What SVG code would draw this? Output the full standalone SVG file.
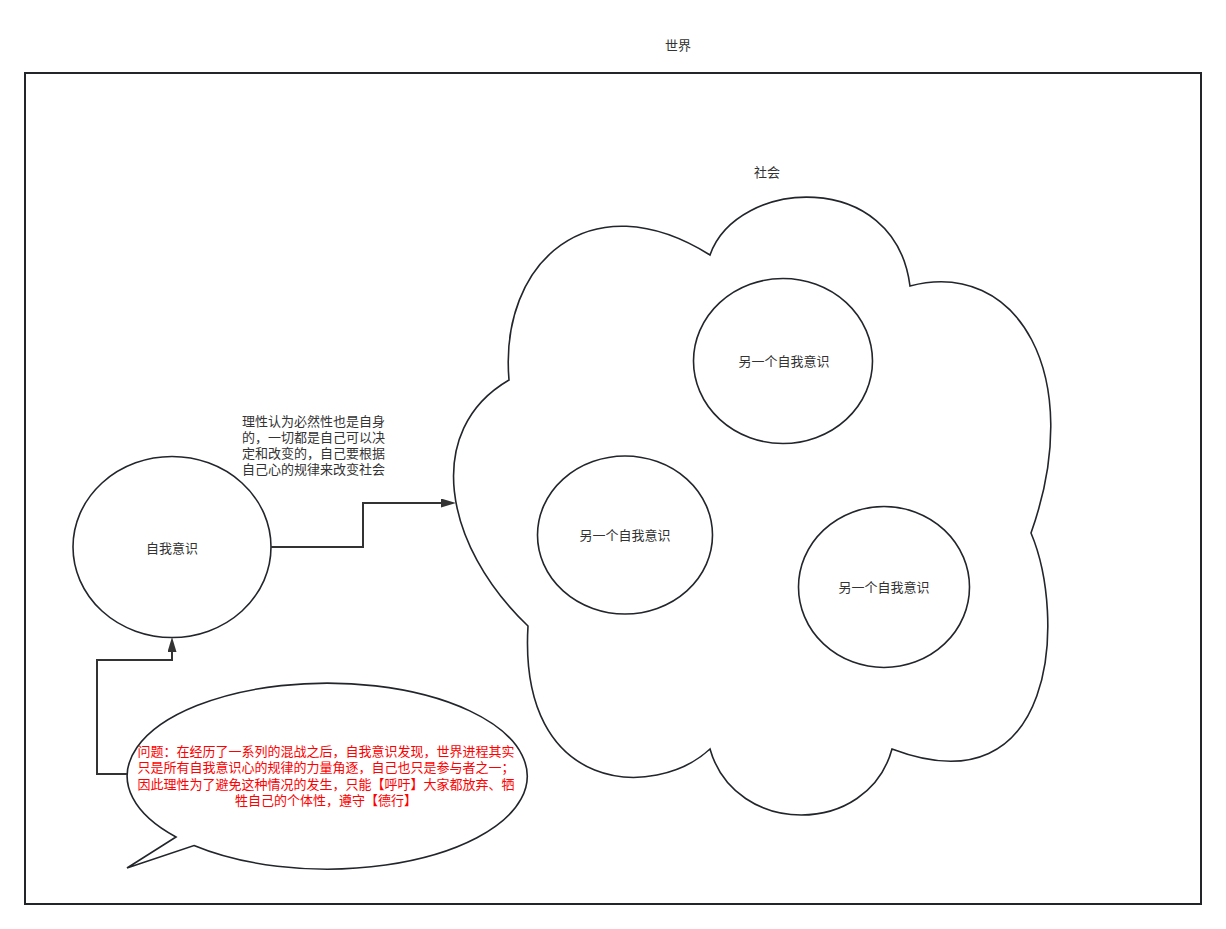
<svg xmlns="http://www.w3.org/2000/svg" width="1226" height="929" viewBox="0 0 1226 929">
  <style>
    .shape { fill: #ffffff; stroke: #22262b; stroke-width: 1.6; }
    .frame { fill: none; stroke: #22262b; stroke-width: 2; }
    .conn { fill: none; stroke: #333333; stroke-width: 2; }
    .t { font-family: "Noto Sans CJK SC", "Liberation Sans", sans-serif; font-size: 13px; fill: #333333; }
    .c { text-anchor: middle; }
    .red { fill: #ff0000; }
  </style>
  <defs>
    <marker id="arrow" markerUnits="userSpaceOnUse" markerWidth="16" markerHeight="10" refX="0" refY="4.5" orient="auto">
      <path d="M0,0 L15,4.5 L0,9 Z" fill="#333333"/>
    </marker>
  </defs>
  <rect width="1226" height="929" fill="#ffffff"/>

  <g id="world">
    <rect class="frame" x="25" y="73" width="1176" height="831"/>
    <text class="t c" x="678" y="50">世界</text>
  </g>

  <g id="society">
    <path class="shape" d="M 528 626 C 443 545, 423 430, 509 380 C 499 262, 590 180, 710 255 C 737 178, 895 168, 910 286 C 1017 258, 1087 375, 1031 533 C 1066 616, 1058 812, 892 749 C 868 837, 735 837, 710 749 C 655 800, 518 795, 528 626 Z"/>
    <text class="t c" x="767" y="177">社会</text>
  </g>

  <g id="self">
    <ellipse class="shape" cx="172" cy="547" rx="99" ry="90.5"/>
    <text class="t c" x="172" y="553">自我意识</text>
  </g>

  <g id="other1">
    <ellipse class="shape" cx="783" cy="361" rx="89.5" ry="82.5"/>
    <text class="t c" x="784" y="366">另一个自我意识</text>
  </g>

  <g id="other2">
    <ellipse class="shape" cx="625" cy="535" rx="87.5" ry="79"/>
    <text class="t c" x="625" y="540">另一个自我意识</text>
  </g>

  <g id="other3">
    <ellipse class="shape" cx="884" cy="587" rx="85.5" ry="80.5"/>
    <text class="t c" x="884" y="592">另一个自我意识</text>
  </g>

  <g id="reason-label">
    <text class="t" x="242" y="426">理性认为必然性也是自身</text>
    <text class="t" x="242" y="442">的，一切都是自己可以决</text>
    <text class="t" x="242" y="458">定和改变的，自己要根据</text>
    <text class="t" x="242" y="474">自己心的规律来改变社会</text>
  </g>

  <g id="question">
    <path class="shape" d="M 176 837 A 200 93 0 1 1 194 845.5 L 127 868 Z"/>
    <text class="t c red" x="326" y="756">问题：在经历了一系列的混战之后，自我意识发现，世界进程其实</text>
    <text class="t c red" x="326" y="772">只是所有自我意识心的规律的力量角逐，自己也只是参与者之一；</text>
    <text class="t c red" x="326" y="789">因此理性为了避免这种情况的发生，只能【呼吁】大家都放弃、牺</text>
    <text class="t c red" x="326" y="805">牲自己的个体性，遵守【德行】</text>
  </g>

  <g id="connectors">
    <path class="conn" d="M 271 547 L 363 547 L 363 503 L 441 503" marker-end="url(#arrow)"/>
    <path class="conn" d="M 127 774 L 97 774 L 97 660 L 172 660 L 172 652" marker-end="url(#arrow)"/>
  </g>
</svg>
